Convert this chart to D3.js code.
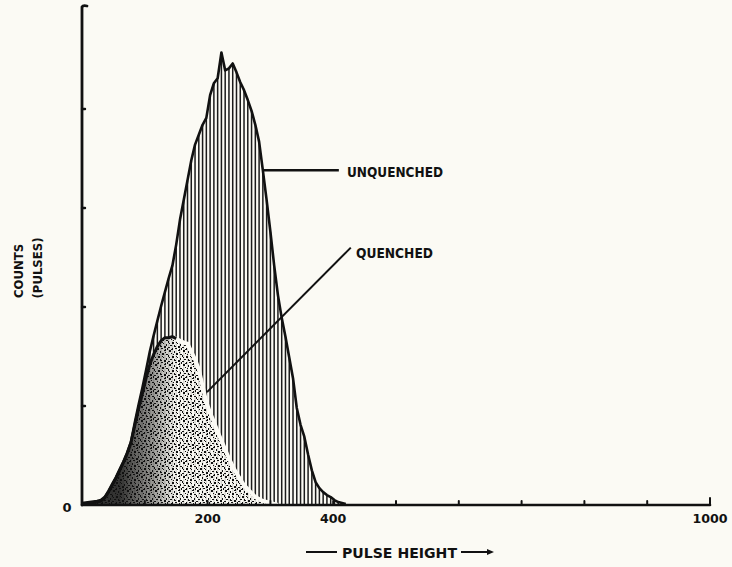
<!DOCTYPE html>
<html>
<head>
<meta charset="utf-8">
<script src="https://cdn.jsdelivr.net/npm/d3@7"></script>
<style>
  html, body { margin: 0; padding: 0; background: #fbfaf4; }
  svg { display: block; }
  text { font-family: "DejaVu Sans", "Liberation Sans", sans-serif; font-weight: bold; fill: #111; }
  text.narrow { font-family: "Liberation Sans Narrow", "DejaVu Sans Condensed", "DejaVu Sans", sans-serif; }
</style>
</head>
<body>
<svg id="chart" width="732" height="567"></svg>
<script>
// Multichannel pulse-height spectrum: channel positions (pulse height units)
const channels = d3.range(0, 421, 6);

// Counts per channel (arbitrary units), unquenched sample
const unquenched = [
  0.02, 0.025, 0.03, 0.035, 0.04, 0.05, 0.08, 0.14, 0.21, 0.28,
  0.36, 0.44, 0.53, 0.64, 0.83, 1.01, 1.18, 1.36, 1.55, 1.71,
  1.86, 2.01, 2.15, 2.29, 2.42, 2.63, 2.88, 3.08, 3.28, 3.48,
  3.64, 3.74, 3.84, 3.91, 4.14, 4.26, 4.31, 4.57, 4.39, 4.41,
  4.46, 4.37, 4.27, 4.19, 4.09, 3.98, 3.84, 3.67, 3.38, 3.08,
  2.76, 2.42, 2.12, 1.89, 1.70, 1.49, 1.28, 0.98, 0.81, 0.69,
  0.51, 0.35, 0.23, 0.17, 0.13, 0.10, 0.08, 0.05, 0.03, 0.02,
  0.01
];

// Counts per channel, quenched sample (shifted to lower pulse heights)
const quenched = [
  0.01, 0.015, 0.02, 0.025, 0.03, 0.04, 0.07, 0.13, 0.20, 0.27,
  0.35, 0.43, 0.52, 0.63, 0.80, 0.97, 1.12, 1.28, 1.42, 1.52,
  1.60, 1.66, 1.69, 1.69, 1.70, 1.68, 1.66, 1.64, 1.63, 1.55,
  1.47, 1.37, 1.20, 1.04, 0.93, 0.84, 0.74, 0.65, 0.56, 0.47,
  0.39, 0.32, 0.26, 0.20, 0.16, 0.12, 0.08, 0.06, 0.04, 0.03,
  0.02, 0.01, 0, 0, 0, 0, 0, 0, 0, 0,
  0, 0, 0, 0, 0, 0, 0, 0, 0, 0,
  0
];

// Axis ticks
const xTicks = [100, 200, 300, 400, 500, 600, 700, 800, 900, 1000];
const xTickLabels = [0, 200, 400, 1000];
const yTicks = [1, 2, 3, 4];

// Leader lines for the curve labels, in data units [pulse height, counts]
const unquenchedLeader = [[289, 3.38], [409, 3.38]];
const quenchedLeader = [[199, 1.14], [428, 2.60]];

const paper = "#fbfaf4";
const ink = "#111";

const svg = d3.select("#chart");
const x = d3.scaleLinear().domain([0, 1000]).range([82, 710]);
const y = d3.scaleLinear().domain([0, 5.03]).range([505, 7]);

const defs = svg.append("defs");

// stipple texture for the quenched area
const stip = defs.append("pattern")
  .attr("id", "stipple").attr("patternUnits", "userSpaceOnUse")
  .attr("width", 14).attr("height", 14);
stip.append("rect").attr("width", 14).attr("height", 14).attr("fill", paper).attr("opacity", 0.84);
const dots = [
  [1,0,2,2],[6,1,1,2],[10,0,2,1],[3,3,1,1],[8,3,2,2],[12,4,2,1],
  [0,5,1,2],[4,6,2,2],[9,7,1,1],[12,8,1,2],[2,9,2,1],[6,9,1,2],
  [10,10,2,2],[0,11,2,1],[4,12,1,2],[7,12,2,1],[13,12,1,2],[11,2,1,1],
  [5,4,1,1],[1,7,1,1],[8,6,1,1],[3,13,1,1],[11,13,1,1],[7,10,1,1]
];
dots.forEach(d => stip.append("rect")
  .attr("x", d[0]).attr("y", d[1]).attr("width", d[2]).attr("height", d[3])
  .attr("fill", ink));

// darkening toward the rising edge of the quenched peak
const grad = defs.append("linearGradient")
  .attr("id", "qshade").attr("gradientUnits", "userSpaceOnUse")
  .attr("x1", x(60)).attr("x2", x(150)).attr("y1", 0).attr("y2", 0);
grad.append("stop").attr("offset", 0).attr("stop-color", ink).attr("stop-opacity", 0.85);
grad.append("stop").attr("offset", 0.55).attr("stop-color", ink).attr("stop-opacity", 0.45);
grad.append("stop").attr("offset", 1).attr("stop-color", ink).attr("stop-opacity", 0);

const uData = channels.map((c, i) => ({ c, v: unquenched[i] }));
const qData = channels.map((c, i) => ({ c, v: quenched[i] }));

// one vertical line per analyser channel
svg.append("g").selectAll("line").data(uData).join("line")
  .attr("x1", d => x(d.c)).attr("x2", d => x(d.c))
  .attr("y1", y(0)).attr("y2", d => y(d.v))
  .attr("stroke", "#1a1a1a").attr("stroke-width", 1.5);

// quenched area over the stripes
const qArea = d3.area().x(d => x(d.c)).y0(y(0)).y1(d => y(d.v));
const qPart = qData.filter(d => d.c <= 312);
svg.append("path").datum(qPart).attr("d", qArea).attr("fill", "url(#stipple)");
svg.append("path").datum(qPart).attr("d", qArea).attr("fill", "url(#qshade)");

const line = d3.line().x(d => x(d.c)).y(d => y(d.v));
// pale halo along the falling side of the quenched curve
svg.append("path").datum(qData.filter(d => d.c >= 144 && d.c <= 312))
  .attr("d", line).attr("fill", "none").attr("stroke", paper).attr("stroke-width", 4);
// dark rising side
svg.append("path").datum(qData.filter(d => d.c <= 150))
  .attr("d", line).attr("fill", "none").attr("stroke", ink).attr("stroke-width", 3);

// unquenched outline
svg.append("path").datum(uData).attr("d", line)
  .attr("fill", "none").attr("stroke", ink).attr("stroke-width", 2.6)
  .attr("stroke-linejoin", "round");

// axes
const axis = svg.append("g").attr("stroke", ink).attr("fill", "none").attr("stroke-linecap", "round");
axis.append("line").attr("x1", x(0)).attr("x2", x(1000)).attr("y1", y(0)).attr("y2", y(0)).attr("stroke-width", 2.6);
axis.append("path").attr("d", `M${x(0)},${y(0)}V${y(5.03)}q1,-2 5,-1`).attr("stroke-width", 2.8);
axis.selectAll(".xt").data(xTicks).join("line")
  .attr("x1", d => x(d)).attr("x2", d => x(d))
  .attr("y1", y(0)).attr("y2", d => y(0) - (d === 1000 ? 7 : 4)).attr("stroke-width", 2);
axis.selectAll(".yt").data(yTicks).join("line")
  .attr("x1", x(0)).attr("x2", x(0) + 3)
  .attr("y1", d => y(d)).attr("y2", d => y(d)).attr("stroke-width", 2.4);

// tick labels
svg.selectAll(".xl").data(xTickLabels.filter(d => d > 0)).join("text")
  .attr("x", d => x(d)).attr("y", 523).attr("text-anchor", "middle")
  .attr("font-size", 13).attr("textLength", d => String(d).length * 8.8)
  .attr("lengthAdjust", "spacingAndGlyphs").text(d => d);
svg.append("text").attr("x", 67).attr("y", 512).attr("text-anchor", "middle")
  .attr("font-size", 13).text(xTickLabels[0]);

// curve labels and leaders
svg.append("line")
  .attr("x1", x(unquenchedLeader[0][0])).attr("y1", y(unquenchedLeader[0][1]))
  .attr("x2", x(unquenchedLeader[1][0])).attr("y2", y(unquenchedLeader[1][1]))
  .attr("stroke", ink).attr("stroke-width", 2.5);
svg.append("text").attr("x", 347).attr("y", 176.5).attr("font-size", 14)
  .attr("textLength", 96).attr("lengthAdjust", "spacingAndGlyphs").text("UNQUENCHED");
svg.append("line")
  .attr("x1", x(quenchedLeader[0][0])).attr("y1", y(quenchedLeader[0][1]))
  .attr("x2", x(quenchedLeader[1][0])).attr("y2", y(quenchedLeader[1][1]))
  .attr("stroke", ink).attr("stroke-width", 2);
svg.append("text").attr("x", 356).attr("y", 258).attr("font-size", 14)
  .attr("textLength", 77).attr("lengthAdjust", "spacingAndGlyphs").text("QUENCHED");

// axis titles
svg.append("text").attr("class", "narrow").attr("transform", "translate(23,271) rotate(-90)")
  .attr("text-anchor", "middle").attr("font-size", 13).text("COUNTS");
svg.append("text").attr("class", "narrow").attr("transform", "translate(42,268) rotate(-90)")
  .attr("text-anchor", "middle").attr("font-size", 13).text("(PULSES)");

const xt = svg.append("g");
xt.append("line").attr("x1", 306).attr("x2", 337).attr("y1", 552).attr("y2", 552)
  .attr("stroke", ink).attr("stroke-width", 2);
xt.append("text").attr("x", 342).attr("y", 557.5).attr("font-size", 14)
  .attr("textLength", 115).attr("lengthAdjust", "spacingAndGlyphs").text("PULSE HEIGHT");
xt.append("line").attr("x1", 461).attr("x2", 489).attr("y1", 552).attr("y2", 552)
  .attr("stroke", ink).attr("stroke-width", 2);
xt.append("path").attr("d", "M487,549L494,552L487,555Z").attr("fill", ink);
</script>
</body>
</html>
